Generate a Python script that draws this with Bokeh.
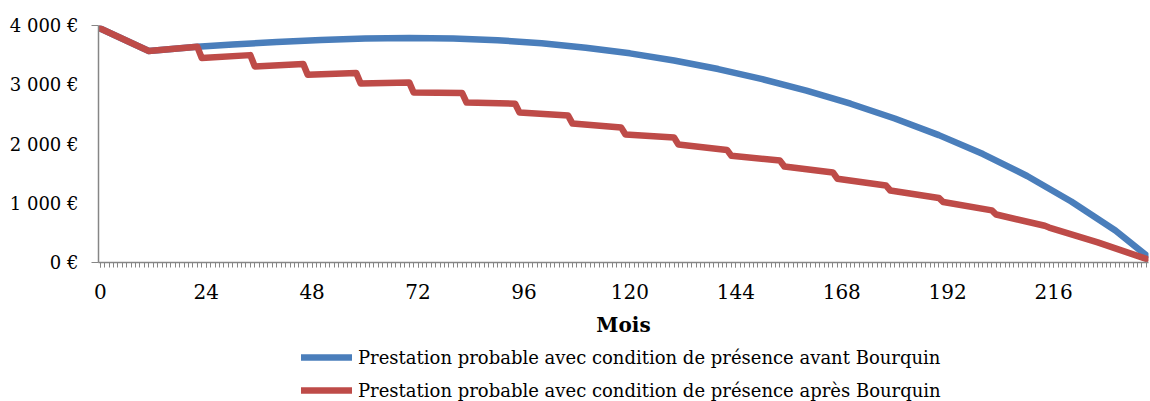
from bokeh.plotting import figure
from bokeh.models import FixedTicker, LinearAxis, Legend, LegendItem, Range1d
from bokeh.layouts import column
from bokeh.embed import file_html
from bokeh.resources import INLINE

# ---- data ----
blue_label = "Prestation probable avec condition de présence avant Bourquin"
red_label = "Prestation probable avec condition de présence après Bourquin"

blue_months = [0, 11, 22, 30, 40, 50, 60, 70, 80, 90, 100, 110, 120, 130, 140, 150,
               160, 170, 180, 190, 200, 210, 220, 230, 237]
blue_values = [3950, 3570, 3640, 3680, 3722, 3757, 3780, 3790, 3782, 3752, 3700, 3625,
               3530, 3410, 3265, 3095, 2900, 2680, 2430, 2150, 1830, 1460, 1030, 540, 120]

red_months = [0, 11, 22, 23, 34, 35, 46, 47, 58, 59, 70, 71, 82, 83, 94, 95, 106, 107,
              118, 119, 130, 131, 142, 143, 154, 155, 166, 167, 178, 179, 190, 191, 202,
              203, 214, 215, 226, 237]
red_values = [3950, 3570, 3640, 3450, 3500, 3310, 3350, 3170, 3200, 3020, 3040, 2870,
              2860, 2700, 2680, 2530, 2480, 2345, 2280, 2160, 2110, 1990, 1900, 1800,
              1720, 1620, 1520, 1415, 1300, 1215, 1090, 1020, 880, 810, 620, 590, 340, 60]

x_ticks = [0, 24, 48, 72, 96, 120, 144, 168, 192, 216]
y_ticks = [0, 1000, 2000, 3000, 4000]
y_tick_labels = ["0 €", "1 000 €", "2 000 €", "3 000 €", "4 000 €"]
x_title = "Mois"

BLUE = "#4A7EBB"
RED = "#BE4B48"
AXIS = "#868686"
FONT = "DejaVu Serif"
LW = 6.5

# ---- chart ----
p = figure(width=1150, height=345, output_backend="svg", toolbar_location=None,
           x_range=Range1d(-0.4, 237.5), y_range=Range1d(0, 4000),
           x_axis_type=None, y_axis_type=None,
           min_border_left=98, min_border_right=2, min_border_top=25, min_border_bottom=83)
p.grid.visible = False
p.outline_line_color = None
p.background_fill_color = "white"
p.border_fill_color = "white"

p.line(blue_months, blue_values, line_color=BLUE, line_width=LW,
       line_join="round", line_cap="round")
p.line(red_months, red_values, line_color=RED, line_width=LW,
       line_join="round", line_cap="round")

# x axis
xa = LinearAxis(ticker=FixedTicker(ticks=x_ticks, minor_ticks=list(range(0, 238))))
xa.axis_line_color = AXIS
xa.axis_line_width = 1.5
xa.major_tick_line_color = AXIS
xa.minor_tick_line_color = AXIS
xa.major_tick_in = 0
xa.major_tick_out = 5
xa.minor_tick_in = 0
xa.minor_tick_out = 5
xa.major_label_text_font = FONT
xa.major_label_text_font_size = "20px"
xa.major_label_text_color = "black"
xa.major_label_standoff = 16
xa.axis_label = x_title
xa.axis_label_text_font = FONT
xa.axis_label_text_font_style = "bold"
xa.axis_label_text_font_size = "20px"
xa.axis_label_text_color = "black"
xa.axis_label_standoff = 11
p.add_layout(xa, "below")

# y axis: inner (short ticks at 0 and 4000), outer (labels)
ya_in = LinearAxis(ticker=FixedTicker(ticks=[0, 4000], minor_ticks=[]))
ya_in.axis_line_color = AXIS
ya_in.axis_line_width = 1.5
ya_in.major_tick_line_color = AXIS
ya_in.major_tick_in = 0
ya_in.major_tick_out = 7
ya_in.minor_tick_line_color = None
ya_in.major_label_overrides = {0: "", 4000: ""}
ya_in.major_label_standoff = 0
p.add_layout(ya_in, "left")

ya = LinearAxis(ticker=FixedTicker(ticks=y_ticks, minor_ticks=[]))
ya.axis_line_color = None
ya.major_tick_line_color = None
ya.minor_tick_line_color = None
ya.major_tick_in = 0
ya.major_tick_out = 0
ya.major_label_overrides = {t: s for t, s in zip(y_ticks, y_tick_labels)}
ya.major_label_text_font = FONT
ya.major_label_text_font_size = "18px"
ya.major_label_text_color = "black"
ya.major_label_standoff = 13
p.add_layout(ya, "left")

# ---- legend strip (series re-drawn out of view, only used as legend keys) ----
q = figure(width=1150, height=56, output_backend="svg", toolbar_location=None,
           x_range=Range1d(0, 1150), y_range=Range1d(-56, 0),
           x_axis_type=None, y_axis_type=None,
           min_border_left=0, min_border_right=0, min_border_top=0, min_border_bottom=0)
q.grid.visible = False
q.outline_line_color = None
q.border_fill_color = "white"
q.background_fill_color = "white"
kb = q.line(blue_months, blue_values, line_color=BLUE, line_width=LW, line_cap="round")
kr = q.line(red_months, red_values, line_color=RED, line_width=LW, line_cap="round")

legend = Legend(items=[LegendItem(label=blue_label, renderers=[kb]),
                       LegendItem(label=red_label, renderers=[kr])],
                location=(203, 0), orientation="vertical")
legend.label_text_font = FONT
legend.label_text_font_size = "18px"
legend.label_text_color = "black"
legend.glyph_width = 51
legend.glyph_height = 22
legend.label_height = 22
legend.label_standoff = 6
legend.spacing = 11
legend.padding = 0
legend.margin = 0
legend.border_line_color = None
legend.background_fill_alpha = 0
q.add_layout(legend, "center")

layout = column(p, q, spacing=0)
open("out.html", "w").write(file_html(layout, INLINE))
